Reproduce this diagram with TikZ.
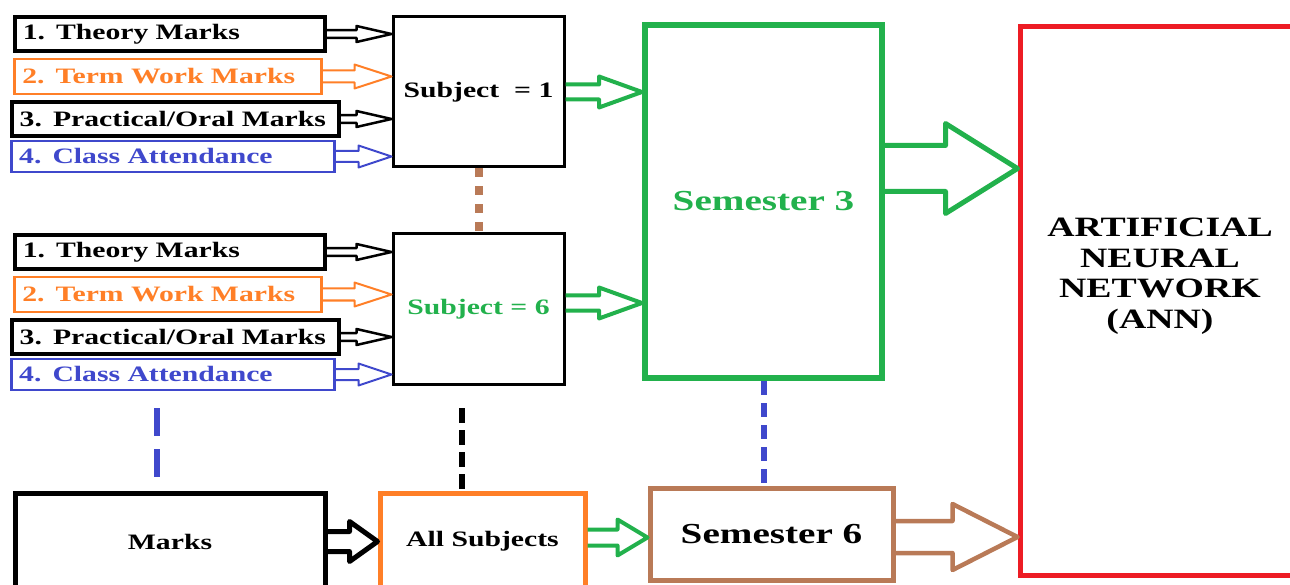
\documentclass[tikz,border=0pt]{standalone}
\usepackage{fontspec}
\setmainfont{Liberation Serif}[FakeStretch=1.35]
\usetikzlibrary{calc}
\definecolor{pgreen}{RGB}{34,177,76}
\definecolor{porange}{RGB}{255,127,39}
\definecolor{pblue}{RGB}{63,72,204}
\definecolor{pred}{RGB}{237,28,36}
\definecolor{pbrown}{RGB}{185,122,87}
% hollow block arrow: style, from, to, shaft half, head half, head length
\newcommand{\fatarrow}[6]{%
  \draw[#1, line join=round] let \p1=(#2), \p2=(#3) in
    (\x1,\y1+#4) -- (\x2-#6,\y1+#4) -- (\x2-#6,\y1+#5) -- (\x2,\y1)
    -- (\x2-#6,\y1-#5) -- (\x2-#6,\y1-#4) -- (\x1,\y1-#4);}

\begin{document}
\begin{tikzpicture}[x=1pt, y=-1pt,
    field/.style={draw, rectangle, anchor=west, inner xsep=8pt, inner ysep=0pt,
      minimum height=34pt, align=left, font=\fontsize{22}{24}\selectfont\bfseries},
    block/.style={draw, rectangle, inner sep=0pt, align=center,
      font=\fontsize{22}{24}\selectfont\bfseries},
    bigtxt/.style={font=\fontsize{29}{31}\selectfont\bfseries},
  ]
  \useasboundingbox (0,0) rectangle (1290,585);
  \clip (0,0) rectangle (1290,585);

  % Subject blocks
  \node[block, line width=3pt, minimum width=171pt, minimum height=150pt]
    (subj1) at (478.5,92) {Subject~ = 1};
  \node[block, line width=3pt, minimum width=171pt, minimum height=150pt,
        text=pgreen] (subj2) at (478.5,309) {Subject = 6};

  % Inputs of each subject
  \foreach \g/\dy in {1/0, 2/218} {
    \node[field, line width=3.5pt, text width=294pt]
      (theory\g) at (13,34+\dy) {1. Theory Marks};
    \node[field, porange, line width=2.5pt, text width=291pt, minimum height=35pt]
      (term\g) at (13,76.5+\dy) {2. Term Work Marks};
    \node[field, line width=3.5pt, text width=311pt]
      (pract\g) at (10,119+\dy) {3. Practical/Oral Marks};
    \node[field, pblue, line width=2.5pt, text width=307pt, minimum height=31pt]
      (attend\g) at (10,156.5+\dy) {4. Class Attendance};
    \fatarrow{black, line width=2.5pt}{theory\g.east}{subj\g.west}{3.8pt}{8pt}{35pt}
    \fatarrow{porange, line width=2pt}{term\g.east}{subj\g.west}{6pt}{12pt}{37pt}
    \fatarrow{black, line width=2.5pt}{pract\g.east}{subj\g.west}{3.8pt}{8pt}{35pt}
    \fatarrow{pblue, line width=2pt}{attend\g.east}{subj\g.west}{5.5pt}{11pt}{33pt}
  }

  % Semesters and network
  \node[block, bigtxt, pgreen, line width=6pt, minimum width=237pt,
        minimum height=353pt] (sem3) at (763.5,201.5) {Semester 3};
  \node[block, draw=pred, line width=5pt, minimum width=300pt,
        minimum height=548pt] (ann) at (1170,301) {};
  \node[align=center, font=\fontsize{28}{30.5}\selectfont\bfseries]
    (annlbl) at (1160,276) {ARTIFICIAL\\NEURAL\\NETWORK\\(ANN)};

  % Bottom row
  \node[block, line width=5pt, minimum width=310pt, minimum height=97pt]
    (marks) at (170,541.5) {Marks};
  \node[block, draw=porange, line width=5pt, minimum width=205pt,
        minimum height=97pt] (allsub) at (482.5,541.5) {All Subjects};
  \node[block, bigtxt, draw=pbrown, line width=5pt, minimum width=243pt,
        minimum height=92pt] (sem6) at (771.5,534) {Semester 6};

  % Block arrows
  \fatarrow{pgreen, line width=4pt}{subj1.east}{sem3.west}{7.5pt}{15.5pt}{43pt}
  \fatarrow{pgreen, line width=4pt}{[yshift=6pt]subj2.east}{sem3.west}{7.5pt}{15.5pt}{43pt}
  \fatarrow{pgreen, line width=5pt}{[yshift=33pt]sem3.east}{ann.west}{23pt}{45pt}{72pt}
  \fatarrow{black, line width=5pt}{marks.east}{allsub.west}{10pt}{20pt}{28pt}
  \fatarrow{pgreen, line width=4pt}{[yshift=4pt]allsub.east}{sem6.west}{8pt}{18pt}{30pt}
  \fatarrow{pbrown, line width=4.5pt}{[yshift=-3pt]sem6.east}{ann.west}{16pt}{33pt}{65pt}

  % Continuation marks
  \draw[pbrown, line width=8pt, dash pattern=on 9pt off 9pt]
    (subj1.south) -- (subj2.north);
  \draw[pblue, line width=6pt, dash pattern=on 14pt off 8pt]
    (sem3.south) -- (sem3.south |- sem6.north);
  \coordinate (blu1) at (157,408);
  \coordinate (blu2) at (157,482);
  \draw[pblue, line width=6pt, dash pattern=on 28pt off 13pt] (blu1) -- (blu2);
  \coordinate (blk1) at (462,408);
  \draw[black, line width=6pt, dash pattern=on 15pt off 7pt]
    (blk1) -- (blk1 |- allsub.north);

\end{tikzpicture}
\end{document}
